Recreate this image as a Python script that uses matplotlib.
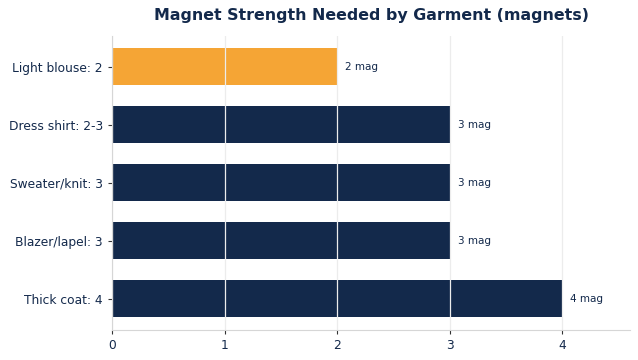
import matplotlib

matplotlib.use("Agg")

import matplotlib.pyplot as plt

categories = ["Light blouse: 2", "Dress shirt: 2-3", "Sweater/knit: 3", "Blazer/lapel: 3", "Thick coat: 4"]
magnets = [2, 3, 3, 3, 4]
labels = ["2 mag", "3 mag", "3 mag", "3 mag", "4 mag"]

NAVY = "#13294b"
ORANGE = "#f5a535"
colors = [ORANGE] + [NAVY] * 4

fig = plt.figure(figsize=(6.38, 3.6), dpi=100)
ax = fig.add_axes([0.1755, 0.083, 0.812, 0.817])

y = list(range(len(categories)))
ax.barh(y, magnets, height=0.64, color=colors, zorder=1)

for yi, v, lab in zip(y, magnets, labels):
    ax.text(v + 0.07, yi, lab, va="center", ha="left", fontsize=7.5, color=NAVY)

ax.set_yticks(y)
ax.set_yticklabels(categories)
ax.set_ylim(4.54, -0.53)
ax.set_xlim(0, 4.6)
ax.set_xticks([0, 1, 2, 3, 4])

ax.grid(axis="x", color="#ececec", linewidth=0.9, zorder=2)
ax.set_axisbelow(False)

for s in ["top", "right"]:
    ax.spines[s].set_visible(False)
for s in ["left", "bottom"]:
    ax.spines[s].set_color("#d6d6d6")
    ax.spines[s].set_zorder(3)

ax.tick_params(axis="both", colors=NAVY, labelsize=8.8, length=3, width=0.8)
ax.tick_params(axis="both", color="#333333")

fig.suptitle("Magnet Strength Needed by Garment (magnets)", x=0.582, y=0.978,
             fontsize=11.4, fontweight="bold", color=NAVY)

fig.savefig("out.png", dpi=100)
